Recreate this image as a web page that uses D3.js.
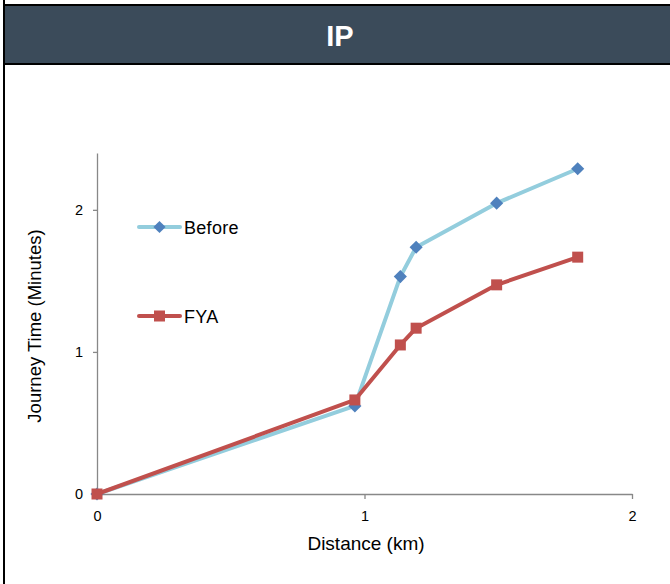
<!DOCTYPE html>
<html>
<head>
<meta charset="utf-8">
<script src="https://cdn.jsdelivr.net/npm/d3@7"></script>
<style>
  body { margin: 0; background: #fff; }
  text { font-family: "Liberation Sans", Arial, sans-serif; }
</style>
</head>
<body>
<svg width="670" height="584"></svg>
<script>
// distance (km) and journey time (minutes)
var beforeDist = [0, 0.964, 1.134, 1.193, 1.494, 1.797];
var beforeTime = [0, 0.62, 1.53, 1.737, 2.047, 2.289];
var fyaDist = [0, 0.964, 1.134, 1.193, 1.494, 1.797];
var fyaTime = [0, 0.662, 1.049, 1.167, 1.472, 1.667];
var xTicks = [0, 1, 2];
var yTicks = [0, 1, 2];

var svg = d3.select("svg"),
    width = +svg.attr("width"),
    height = +svg.attr("height");

// header band + frame
svg.append("rect").attr("x", 3).attr("y", 4).attr("width", width).attr("height", 61)
    .attr("fill", "#000");
svg.append("rect").attr("x", 5).attr("y", 6).attr("width", width).attr("height", 57)
    .attr("fill", "#3b4b5a");
svg.append("rect").attr("x", 3).attr("y", 0).attr("width", 2).attr("height", height)
    .attr("fill", "#000");
svg.append("text").attr("x", 340).attr("y", 46)
    .attr("text-anchor", "middle")
    .attr("fill", "#fff")
    .style("font-size", "29px")
    .attr("font-weight", "bold")
    .text("IP");

var x = d3.scaleLinear().domain([0, 2]).range([97, 632]);
var y = d3.scaleLinear().domain([0, 2.4]).range([494, 153]);

var xAxis = svg.append("g")
    .attr("transform", "translate(0,494)")
    .call(d3.axisBottom(x).tickValues(xTicks).tickFormat(d3.format("d")).tickSize(5).tickSizeOuter(0));
var yAxis = svg.append("g")
    .attr("transform", "translate(97,0)")
    .call(d3.axisLeft(y).tickValues(yTicks).tickFormat(d3.format("d")).tickSize(4).tickSizeOuter(0));

[xAxis, yAxis].forEach(function(ax) {
    ax.select(".domain").attr("stroke", "#888").attr("stroke-width", 1.3);
    ax.selectAll(".tick line").attr("stroke", "#888").attr("stroke-width", 1.3);
    ax.selectAll(".tick text")
        .attr("font-family", "Liberation Sans, Arial, sans-serif")
        .style("font-size", "14.5px").attr("fill", "#000");
});
xAxis.selectAll(".tick text").attr("dy", "0.71em").attr("y", 17);
yAxis.selectAll(".tick text").attr("x", -14);

svg.append("text").attr("x", 366).attr("y", 550)
    .attr("text-anchor", "middle").style("font-size", "19px")
    .text("Distance (km)");
svg.append("text")
    .attr("transform", "translate(41,326) rotate(-90)")
    .attr("text-anchor", "middle").style("font-size", "18.5px")
    .text("Journey Time (Minutes)");

var line = d3.line()
    .x(function(d) { return x(d[0]); })
    .y(function(d) { return y(d[1]); });

var before = d3.zip(beforeDist, beforeTime);
var fya = d3.zip(fyaDist, fyaTime);

svg.append("path").datum(before)
    .attr("d", line)
    .attr("fill", "none").attr("stroke", "#93cddd").attr("stroke-width", 4)
    .attr("stroke-linejoin", "round");
svg.append("g").selectAll("path")
    .data(before)
    .enter().append("path")
    .attr("d", d3.symbol(d3.symbolDiamond2, 110))
    .attr("transform", function(d) { return "translate(" + x(d[0]) + "," + y(d[1]) + ")"; })
    .attr("fill", "#4f81bd");

svg.append("path").datum(fya)
    .attr("d", line)
    .attr("fill", "none").attr("stroke", "#c0504d").attr("stroke-width", 4)
    .attr("stroke-linejoin", "round");
svg.append("g").selectAll("rect")
    .data(fya)
    .enter().append("rect")
    .attr("x", function(d) { return x(d[0]) - 5.5; })
    .attr("y", function(d) { return y(d[1]) - 5.5; })
    .attr("width", 11).attr("height", 11)
    .attr("fill", "#c0504d");

// legend
var legend = svg.append("g");
legend.append("line").attr("x1", 139).attr("x2", 180).attr("y1", 227).attr("y2", 227)
    .attr("stroke", "#93cddd").attr("stroke-width", 4).attr("stroke-linecap", "round");
legend.append("path")
    .attr("d", d3.symbol(d3.symbolDiamond2, 95))
    .attr("transform", "translate(159.5,227)")
    .attr("fill", "#4f81bd");
legend.append("text").attr("x", 184).attr("y", 234).style("font-size", "18px")
    .attr("letter-spacing", 0.3).text("Before");

legend.append("line").attr("x1", 139).attr("x2", 180).attr("y1", 316).attr("y2", 316)
    .attr("stroke", "#c0504d").attr("stroke-width", 4).attr("stroke-linecap", "round");
legend.append("rect").attr("x", 154).attr("y", 310.5).attr("width", 11).attr("height", 11)
    .attr("fill", "#c0504d");
legend.append("text").attr("x", 184).attr("y", 323).style("font-size", "18px")
    .attr("letter-spacing", 0.3).text("FYA");
</script>
</body>
</html>
